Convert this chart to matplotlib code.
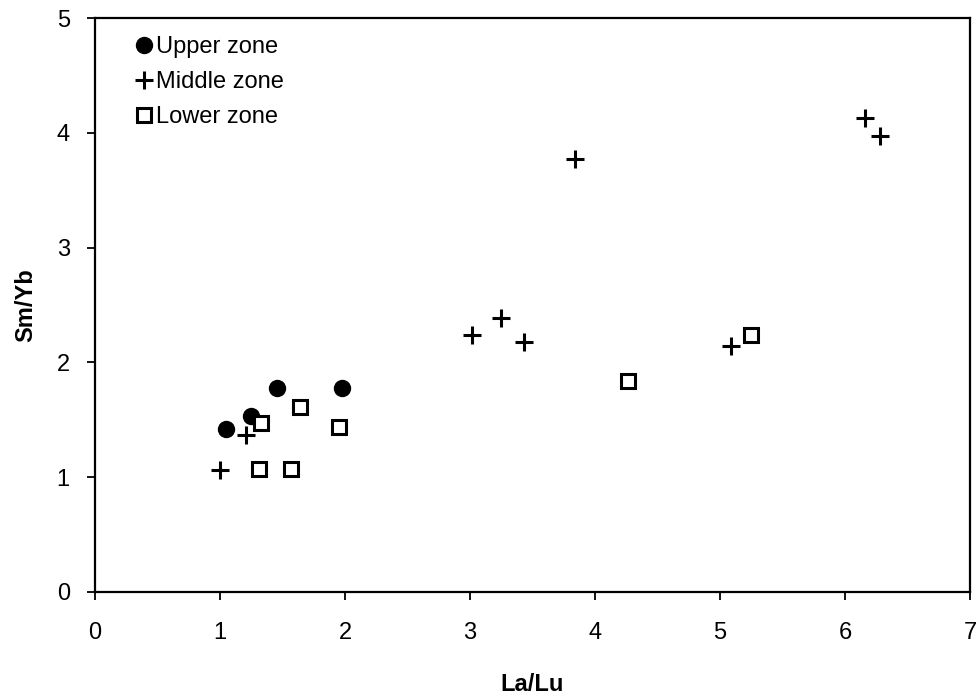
import matplotlib

matplotlib.use("Agg")
import matplotlib.pyplot as plt

plt.rcParams["font.family"] = ["Liberation Sans", "DejaVu Sans"]

# La/Lu vs Sm/Yb
upper_x = [1.05, 1.25, 1.46, 1.98]
upper_y = [1.42, 1.53, 1.78, 1.78]

middle_x = [1.00, 1.21, 3.02, 3.25, 3.43, 3.84, 5.09, 6.16, 6.28]
middle_y = [1.06, 1.37, 2.24, 2.39, 2.18, 3.77, 2.14, 4.13, 3.97]

lower_x = [1.31, 1.33, 1.57, 1.64, 1.95, 4.26, 5.25]
lower_y = [1.07, 1.47, 1.07, 1.61, 1.44, 1.84, 2.24]

x_ticks = [0, 1, 2, 3, 4, 5, 6, 7]
y_ticks = [0, 1, 2, 3, 4, 5]

fig = plt.figure(figsize=(9.78, 6.97), dpi=100)
ax = fig.add_axes([0.097, 0.151, 0.895, 0.823])

ax.plot(upper_x, upper_y, "o", color="black", markersize=11.5, linestyle="none", label="Upper zone")
ax.plot(middle_x, middle_y, "+", color="black", markersize=13, markeredgewidth=2.2, linestyle="none", label="Middle zone")
ax.plot(lower_x, lower_y, "s", markerfacecolor="white", markeredgecolor="black", markersize=10,
        markeredgewidth=2.2, linestyle="none", label="Lower zone")

ax.set_xlim(0, 7)
ax.set_ylim(0, 5)
ax.set_xticks(x_ticks)
ax.set_yticks(y_ticks)
ax.tick_params(axis="x", direction="out", length=6, width=1.3, labelsize=17, pad=16)
ax.tick_params(axis="y", direction="out", length=6, width=1.3, labelsize=17, pad=12)
for spine in ax.spines.values():
    spine.set_linewidth(1.6)

ax.set_xlabel("La/Lu", fontsize=17, fontweight="bold", labelpad=21)
ax.set_ylabel("Sm/Yb", fontsize=17, fontweight="bold", labelpad=14)

ax.legend(loc="upper left", bbox_to_anchor=(0.028, 1.0), frameon=False, fontsize=17,
          handlelength=0.6, handletextpad=0.2, labelspacing=0.55, borderaxespad=0.35)

fig.savefig("out.png", dpi=100)
plt.close(fig)
